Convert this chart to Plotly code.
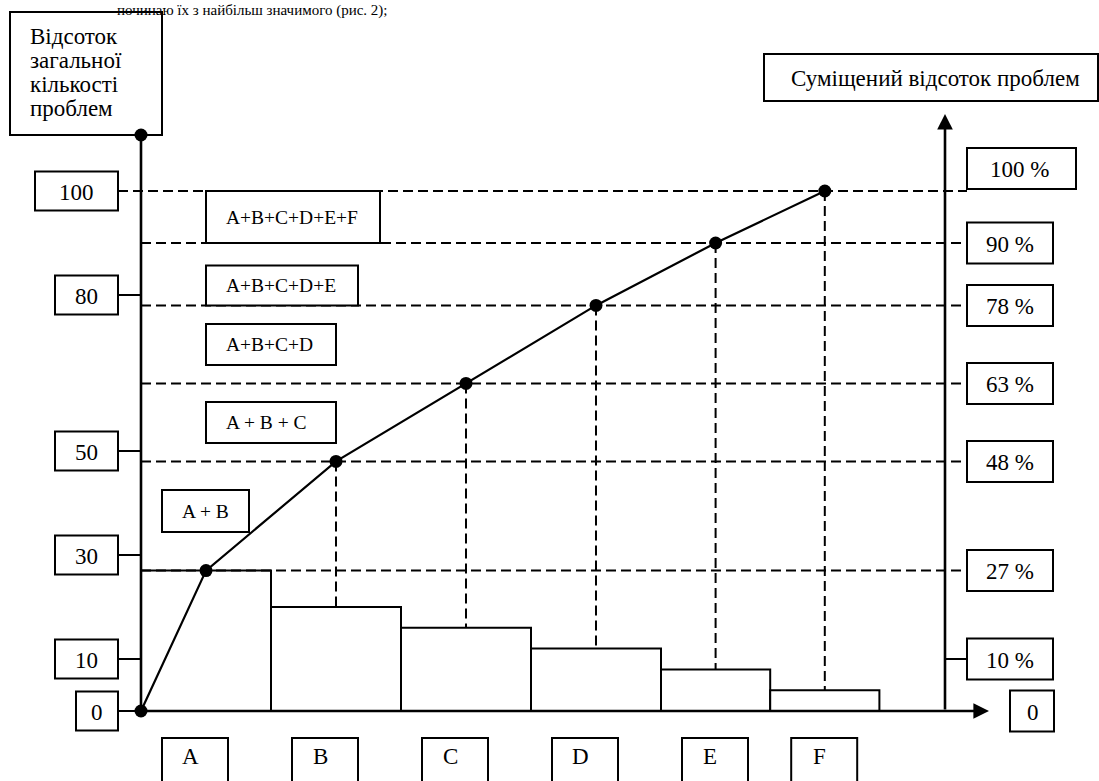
import plotly.graph_objects as go

# ---------------- data ----------------
categories = ["A", "B", "C", "D", "E", "F"]
problem_pct = [27, 20, 16, 12, 8, 4]
cumulative_pct = [27, 48, 63, 78, 90, 100]
left_ticks = [0, 10, 30, 50, 80, 100]
left_tick_labels = ["0", "10", "30", "50", "80", "100"]
right_ticks = [100, 90, 78, 63, 48, 27, 10, 0]
right_tick_labels = ["100 %", "90 %", "78 %", "63 %", "48 %", "27 %", "10 %", "0"]
combo_labels = ["A + B", "A + B + C", "A+B+C+D", "A+B+C+D+E", "A+B+C+D+E+F"]
left_title = ["Відсоток", "загальної", "кількості", "проблем"]
right_title = "Суміщений відсоток проблем"
caption = "починаю їх з найбільш значимого (рис. 2);"

# ---------------- layout constants ----------------
W, H = 1099, 781
X0, UX = 141.0, 130.0      # pixel of x = 0, pixels per category unit
Y0, UY = 711.0, 5.2        # pixel of y = 0, pixels per percent
bar_widths = [1, 1, 1, 1, 0.84, 0.84]
FONT = "Liberation Serif, Times New Roman, serif"
BIG, SMALL = 23, 19.5
DASH = "10px,5px"
LW = 2


def xd(px):
    return (px - X0) / UX


def yd(py):
    return (Y0 - py) / UY


def ypx(v):
    return Y0 - v * UY


lefts = []
acc = 0.0
for w in bar_widths:
    lefts.append(acc)
    acc += w
centers = [l + w / 2 for l, w in zip(lefts, bar_widths)]

fig = go.Figure()

# bars
fig.add_trace(go.Bar(
    x=centers, y=problem_pct, width=bar_widths, base=0,
    marker=dict(color="white", line=dict(color="black", width=LW)),
    hoverinfo="skip", showlegend=False))

# horizontal dashed guide lines at every cumulative level
hx, hy = [], []
for i, v in enumerate(cumulative_pct):
    start = xd(118) if v == max(cumulative_pct) else 0
    hx += [start, xd(967), None]
    hy += [v, v, None]
fig.add_trace(go.Scatter(x=hx, y=hy, mode="lines",
                         line=dict(color="black", width=LW, dash=DASH),
                         hoverinfo="skip", showlegend=False))

# vertical dashed lines from cumulative points down to bar tops
vx, vy = [], []
for i in range(1, len(categories)):
    vx += [centers[i], centers[i], None]
    vy += [cumulative_pct[i], problem_pct[i], None]
fig.add_trace(go.Scatter(x=vx, y=vy, mode="lines",
                         line=dict(color="black", width=LW, dash=DASH),
                         hoverinfo="skip", showlegend=False))

# cumulative curve
fig.add_trace(go.Scatter(x=[0] + centers, y=[0] + cumulative_pct,
                         mode="lines+markers",
                         line=dict(color="black", width=2.2),
                         marker=dict(color="black", size=13),
                         hoverinfo="skip", showlegend=False, cliponaxis=False))

shapes = []
annotations = []


def rect(x0p, y0p, x1p, y1p):
    shapes.append(dict(type="rect", xref="x", yref="y",
                       x0=xd(x0p), x1=xd(x1p), y0=yd(y0p), y1=yd(y1p),
                       fillcolor="white", line=dict(color="black", width=LW),
                       layer="above"))


def seg(x0p, y0p, x1p, y1p, width=LW):
    shapes.append(dict(type="line", xref="x", yref="y",
                       x0=xd(x0p), x1=xd(x1p), y0=yd(y0p), y1=yd(y1p),
                       line=dict(color="black", width=width), layer="above"))


def text(xp, yp, t, size=BIG, xanchor="center"):
    annotations.append(dict(x=xd(xp), y=yd(yp), xref="x", yref="y", text=t,
                            showarrow=False, xanchor=xanchor, yanchor="middle",
                            font=dict(family=FONT, size=size, color="black")))


# left axis line and title box
seg(X0, Y0, X0, 135, width=2.6)
rect(10, 12, 162, 135)
for j, line in enumerate(left_title):
    text(28, 36 + 24 * j, line, xanchor="left")
shapes.append(dict(type="circle", xref="x", yref="y",
                   x0=xd(X0 - 6.5), x1=xd(X0 + 6.5), y0=yd(128.5), y1=yd(141.5),
                   fillcolor="black", line=dict(color="black", width=0),
                   layer="above"))

# left tick boxes
for v, lab in zip(left_ticks, left_tick_labels):
    yc = ypx(v)
    if v == max(left_ticks):
        x0p = 35
    elif v == 0:
        x0p = 76
        seg(118, yc, X0, yc)
    else:
        x0p = 55
        seg(118, yc, X0, yc)
    rect(x0p, yc - 19.5, 118, yc + 19.5)
    text((x0p + 118) / 2, yc + 1, lab)

# right axis title
rect(764, 54, 1098, 101)
text(935, 78, right_title)

# right tick boxes
for v, lab in zip(right_ticks, right_tick_labels):
    yc = ypx(v)
    if v == 100:
        rect(967, yc - 43, 1076, yc - 2)
        text(1019, yc - 21.5, lab)
    elif v == 0:
        rect(1010, yc - 20.5, 1054, yc + 20.5)
        text(1033, yc + 1, lab)
    else:
        if v not in cumulative_pct:
            seg(944, yc, 967, yc)
        rect(967, yc - 20.5, 1053, yc + 20.5)
        text(1010, yc + 1, lab)

# combination label boxes between cumulative levels
lv = cumulative_pct
# A + B
mid = (ypx(lv[0]) + ypx(lv[1])) / 2 - 5
rect(162, mid - 21, 249, mid + 21)
text(180, mid, combo_labels[0], SMALL, "left")
# A + B + C
mid = (ypx(lv[1]) + ypx(lv[2])) / 2
rect(206, mid - 20.5, 336, mid + 20.5)
text(224, mid, combo_labels[1], SMALL, "left")
# A+B+C+D
mid = (ypx(lv[2]) + ypx(lv[3])) / 2
rect(206, mid - 20.5, 336, mid + 20.5)
text(224, mid, combo_labels[2], SMALL, "left")
# A+B+C+D+E (sits on the 78 % line)
yb = ypx(lv[3])
rect(206, yb - 40, 358, yb)
text(224, yb - 20, combo_labels[3], SMALL, "left")
# A+B+C+D+E+F (between 90 % and 100 % lines)
rect(206, ypx(lv[5]), 380, ypx(lv[4]))
text(224, (ypx(lv[4]) + ypx(lv[5])) / 2, combo_labels[4], SMALL, "left")

# category boxes under the bars
for l, c in zip(lefts, categories):
    lp = X0 + l * UX
    rect(lp + 21, 738, lp + 87, 800)
    text(lp + 49, 756, c)

# axes with arrows
annotations.append(dict(x=xd(989), y=0, ax=0, ay=0, xref="x", yref="y",
                        axref="x", ayref="y", text="", showarrow=True,
                        arrowhead=2, arrowsize=1.2, arrowwidth=2.6,
                        arrowcolor="black", standoff=0))
annotations.append(dict(x=xd(945), y=yd(114), ax=xd(945), ay=0, xref="x",
                        yref="y", axref="x", ayref="y", text="", showarrow=True,
                        arrowhead=2, arrowsize=1.2, arrowwidth=2.6,
                        arrowcolor="black", standoff=0))

# caption fragment at the top
annotations.append(dict(x=xd(390), y=yd(0), xref="x", yref="y", text=caption,
                        showarrow=False, xanchor="right", yanchor="top",
                        font=dict(family=FONT, size=15, color="black")))

fig.update_layout(
    width=W, height=H,
    margin=dict(l=0, r=0, t=0, b=0),
    paper_bgcolor="white", plot_bgcolor="white",
    xaxis=dict(range=[xd(0), xd(W)], visible=False, fixedrange=True),
    yaxis=dict(range=[yd(H), yd(0)], visible=False, fixedrange=True),
    shapes=shapes, annotations=annotations,
    showlegend=False,
)

fig.write_html("out.html", config={"displayModeBar": False},
               post_script="document.body.style.margin='0';")
